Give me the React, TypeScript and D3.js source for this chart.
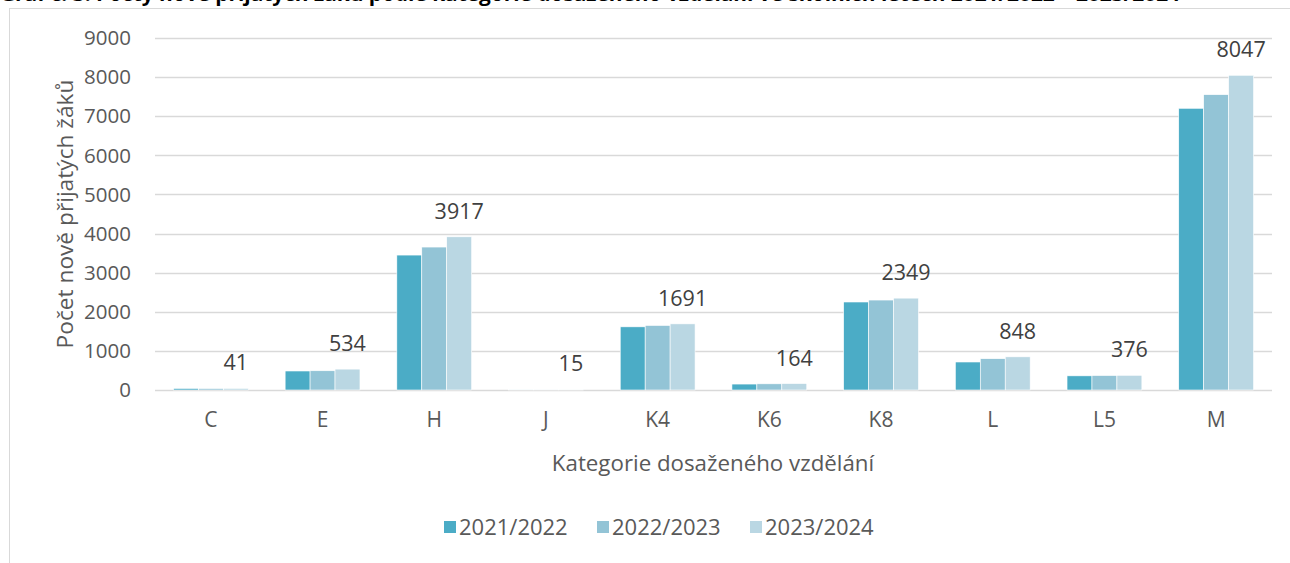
import React from "react";
import * as d3 from "d3";

const categories = ["C", "E", "H", "J", "K4", "K6", "K8", "L", "L5", "M"];
const seriesNames = ["2021/2022", "2022/2023", "2023/2024"];
const values2122 = [40, 486, 3450, 10, 1615, 152, 2250, 716, 362, 7203];
const values2223 = [38, 492, 3655, 12, 1650, 158, 2300, 800, 370, 7551];
const values2324 = [41, 534, 3917, 15, 1691, 164, 2349, 848, 376, 8047];
const yTicks = [0, 1000, 2000, 3000, 4000, 5000, 6000, 7000, 8000, 9000];
const colors = ["#4BACC6", "#93C4D6", "#BAD7E3"];

const W = 1290;
const H = 563;
const font = "'Open Sans', 'Liberation Sans', sans-serif";

export default function App() {
  const series = [values2122, values2223, values2324];
  const x = d3.scaleBand<string>().domain(categories).range([155, 1272]).paddingInner(0.33).paddingOuter(0.165);
  const y = d3.scaleLinear().domain([0, 9000]).range([390, 38]);
  const x1 = d3.scaleBand<number>().domain([0, 1, 2]).range([0, x.bandwidth()]);

  return (
    <svg width={W} height={H} style={{ position: "absolute", left: 0, top: 0 }} fontFamily={font}>
      <rect x={0} y={0} width={W} height={H} fill="#fff" />
      <text x={0} y={1} fontSize={19} fontWeight="bold" fill="#000" textLength={1180} lengthAdjust="spacingAndGlyphs">
        Graf č. 3: Počty nově přijatých žáků podle kategorie dosaženého vzdělání ve školních letech 2021/2022 – 2023/2024
      </text>
      <rect x={9.5} y={8.5} width={W} height={H} fill="none" stroke="#d9d9d9" strokeWidth={1} />
      {yTicks.map((t) => (
        <g key={t}>
          <line x1={155} x2={1272} y1={Math.round(y(t)) + 0.5} y2={Math.round(y(t)) + 0.5} stroke="#d9d9d9" strokeWidth={1.3} />
          <text x={131} y={y(t)} dy="0.35em" textAnchor="end" fontSize={20.5} fill="#595959">
            {t}
          </text>
        </g>
      ))}
      {categories.map((c, i) => (
        <g key={c} transform={`translate(${x(c)},0)`}>
          {series.map((s, j) => (
            <rect
              key={j}
              x={x1(j)!}
              y={y(s[i])}
              width={x1.bandwidth()}
              height={y(0) - y(s[i])}
              fill={colors[j]}
              stroke="#fff"
              strokeWidth={0.6}
            />
          ))}
          <text
            x={x1(2)! + x1.bandwidth() / 2}
            y={y(values2324[i]) - 18}
            textAnchor="middle"
            fontSize={21.5}
            fill="#404040"
          >
            {values2324[i]}
          </text>
          <text x={x.bandwidth() / 2} y={420} dy="0.35em" textAnchor="middle" fontSize={21} fill="#595959">
            {c}
          </text>
        </g>
      ))}
      <text x={713} y={463} dy="0.35em" textAnchor="middle" fontSize={22.3} fill="#595959">
        Kategorie dosaženého vzdělání
      </text>
      <text
        transform={`translate(65,214) rotate(-90)`}
        dy="0.35em"
        textAnchor="middle"
        fontSize={22.7}
        fill="#595959"
      >
        Počet nově přijatých žáků
      </text>
      {seriesNames.map((n, j) => {
        const lx = [444, 597, 750][j];
        return (
          <g key={n}>
            <rect x={lx} y={521} width={12} height={12} fill={colors[j]} />
            <text x={lx + 15} y={527} dy="0.35em" fontSize={22} fill="#595959">
              {n}
            </text>
          </g>
        );
      })}
    </svg>
  );
}
